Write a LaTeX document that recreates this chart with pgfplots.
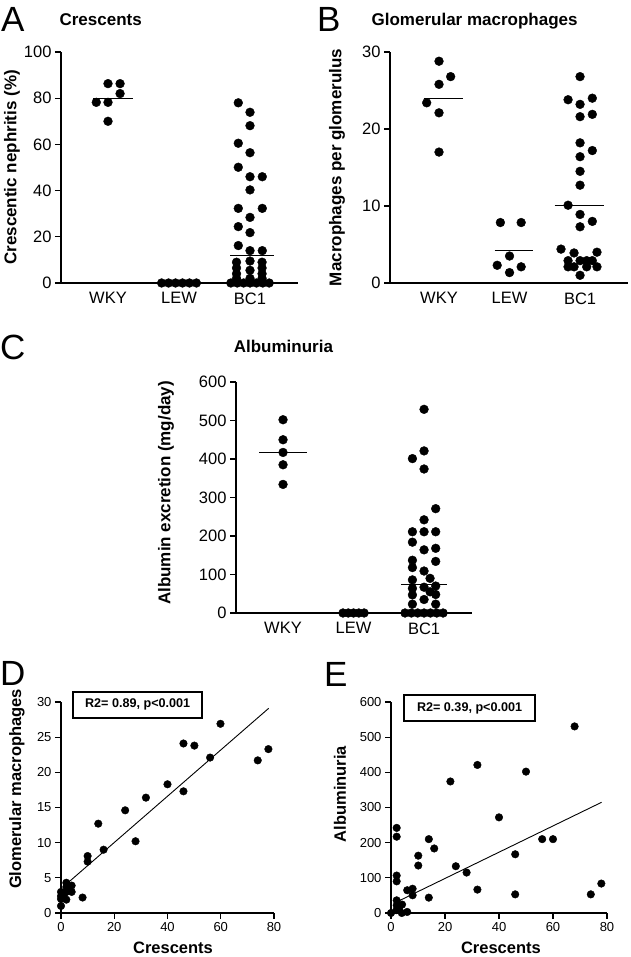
\documentclass[border=0pt]{standalone}
\usepackage{fontspec}
\setmainfont{Liberation Sans}
\usepackage{pgfplots}
\pgfplotsset{compat=1.18}
\pgfplotsset{
  every axis title shift=0pt,
  panel/.style={
    scale only axis, anchor=south west,
    axis lines=left, axis line style={line width=1.1pt,-},
    tick align=outside, major tick length=6pt,
    every tick/.style={line width=1.1pt, black},
    clip=false,
    /pgf/number format/assume math mode=true,
    tick label style={font=\fontsize{16.5}{18}\selectfont},
    label style={font=\fontsize{17}{20}\selectfont\bfseries},
    title style={font=\fontsize{17}{20}\selectfont\bfseries},
  },
  cat/.style={xtick={1,2,3}, xticklabels={WKY,LEW,BC1}, xtick style={draw=none}},
  dots/.style={only marks, mark=*, mark size=4.4pt, black, mark options={fill=black, draw=black}},
  sdots/.style={only marks, mark=*, mark size=3.8pt, black, mark options={fill=black, draw=black}},
  mline/.style={black, line width=1pt, no marks},
  scat/.style={
    scale only axis, anchor=south west,
    axis lines=left, axis line style={line width=1.1pt,-},
    tick align=outside, major tick length=6pt,
    every tick/.style={line width=1.1pt, black},
    clip=false,
    /pgf/number format/assume math mode=true,
    tick label style={font=\fontsize{13}{15}\selectfont},
    label style={font=\fontsize{16.5}{19}\selectfont\bfseries},
    xmin=0, xmax=80, xtick={0,20,...,80},
  },
}
\begin{document}
\begin{tikzpicture}[x=1pt,y=1pt]
\useasboundingbox (0,0) rectangle (630,957);
\node[anchor=base west, inner sep=0, font=\fontsize{35}{35}\selectfont] at (1pt,925pt) {A};
\node[anchor=base west, inner sep=0, font=\fontsize{35}{35}\selectfont] at (317pt,925pt) {B};
\node[anchor=base west, inner sep=0, font=\fontsize{35}{35}\selectfont] at (0pt,597pt) {C};
\node[anchor=base west, inner sep=0, font=\fontsize{35}{35}\selectfont] at (0pt,271pt) {D};
\node[anchor=base west, inner sep=0, font=\fontsize{35}{35}\selectfont] at (324pt,270pt) {E};

% ---------- A ----------
\begin{axis}[panel, cat, at={(61pt,674pt)}, width=237pt, height=231pt,
  xmin=0.338, xmax=3.676, ymin=0, ymax=100, ytick={0,20,...,100},
  ylabel={Crescentic nephritis (\%)},
  ylabel style={at={(axis description cs:-0.207,0.5)}, anchor=center},
  title={Crescents},
  title style={at={(axis description cs:-0.021,1.113)}, anchor=base west}]
\addplot[dots] coordinates {(1,86.3) (1.17,86.3) (1.17,82) (0.835,78.2) (1,78.2) (1,70)};
\addplot[dots] coordinates {(1.755,0) (1.853,0) (1.951,0) (2.049,0) (2.147,0) (2.245,0)};
\addplot[dots] coordinates {
 (2.835,78) (3,73.9) (3,68.1) (2.835,60.5) (3,56.4) (2.835,50.1) (3,46) (3.173,46)
 (3,40.3) (2.835,32.3) (3.173,32.3) (3,28.4) (2.835,24.4) (3,21.8) (2.835,16.2) (3,14) (3.173,14)
 (2.81,9) (3,9.5) (3.17,9) (2.81,6.5) (3,5.5) (3.17,6.5) (2.81,4) (3.17,4) (2.81,2) (3,2) (3.17,2)
 (2.73,0) (2.82,0) (2.91,0) (3,0) (3.09,0) (3.18,0) (3.27,0)};
\addplot[mline] coordinates {(0.79,80) (1.35,80)};
\addplot[mline] coordinates {(2.72,11.7) (3.34,11.7)};
\end{axis}

% ---------- B ----------
\begin{axis}[panel, cat, at={(390pt,674pt)}, width=238pt, height=231pt,
  xmin=0.305, xmax=3.68, ymin=0, ymax=30, ytick={0,10,20,30},
  ylabel={Macrophages per glomerulus},
  ylabel style={at={(axis description cs:-0.223,0.5)}, anchor=center},
  title={Glomerular macrophages},
  title style={at={(axis description cs:-0.092,1.113)}, anchor=base west}]
\addplot[dots] coordinates {(1,28.8) (1.165,26.8) (1,25.8) (0.825,23.4) (1,22.1) (1,17.0)};
\addplot[dots] coordinates {(1.87,7.85) (2.165,7.85) (2,3.5) (1.825,2.3) (2.165,2.1) (2,1.35)};
\addplot[dots] coordinates {
 (3,26.8) (2.83,23.8) (3,23.2) (3.174,24.0) (3,21.6) (3.174,21.9) (3,18.2) (3.174,17.2)
 (3,16.4) (3,14.5) (3,12.7) (2.83,10.1) (3,8.9) (3.174,8.0) (3,7.3)
 (2.73,4.4) (2.915,3.9) (3.24,4.0) (2.83,2.9) (3,2.9) (3.094,2.9) (3.174,2.9)
 (2.83,2.1) (2.915,2.1) (3.094,2.1) (3.24,2.1) (3,1.0)};
\addplot[mline] coordinates {(0.78,24) (1.335,24)};
\addplot[mline] coordinates {(1.79,4.16) (2.33,4.16)};
\addplot[mline] coordinates {(2.64,10.05) (3.34,10.05)};
\end{axis}

% ---------- C ----------
\begin{axis}[panel, cat, at={(236pt,344pt)}, width=236pt, height=231pt,
  xmin=0.333, xmax=3.68, ymin=0, ymax=600, ytick={0,100,...,600},
  ylabel={Albumin excretion (mg/day)},
  ylabel style={at={(axis description cs:-0.297,0.52)}, anchor=center},
  title={Albuminuria},
  title style={at={(axis description cs:0.201,1.127)}, anchor=base}]
\addplot[dots] coordinates {(1,502) (1,450) (1,417) (1,385) (1,334)};
\addplot[dots] coordinates {(1.85,0) (1.925,0) (2,0) (2.075,0) (2.15,0)};
\addplot[dots] coordinates {
 (3,529) (3,421) (2.835,401) (3,374) (3.165,271) (3,242) (2.835,211) (3,211) (3.165,211)
 (2.835,184) (3,164) (3.165,168) (3.165,134) (2.835,137) (2.835,118) (3,109) (2.835,86) (3.085,90)
 (2.835,64) (3,67) (3.165,70) (2.835,47) (3.085,55) (3.165,48) (3,35) (2.835,23) (3.165,23)
 (2.73,0) (2.82,0) (2.91,0) (3,0) (3.09,0) (3.18,0) (3.27,0)};
\addplot[mline] coordinates {(0.66,418) (1.34,418)};
\addplot[mline] coordinates {(2.67,74.5) (3.33,74.5)};
\end{axis}

% ---------- D ----------
\begin{axis}[scat, at={(61pt,44pt)}, width=213pt, height=211pt,
  ymin=0, ymax=30, ytick={0,5,...,30},
  xlabel={Crescents}, ylabel={Glomerular macrophages},
  xlabel style={at={(axis description cs:0.526,-0.166)}, anchor=center},
  ylabel style={at={(axis description cs:-0.207,0.588)}, anchor=center}]
\addplot[sdots] coordinates {
 (59.9,26.9) (46,24.1) (50.1,23.8) (77.9,23.3) (73.9,21.7) (56,22.1) (40,18.3) (46,17.3)
 (31.9,16.4) (24.1,14.6) (14,12.7) (28,10.2) (16,9.0) (10,8.1) (10,7.3) (8.1,2.2)
 (2,4.3) (2,3.7) (4,3.9) (4,3.0) (0,3.0) (1,2.5) (0,2.0) (2,1.9) (0,1.0) (2,3.0) (0,2.4) (3,3.5)};
\addplot[black, line width=0.9pt, no marks] coordinates {(2,4.1) (78,29.1)};
\node[draw=black, line width=2pt, fill=white, minimum width=129pt, minimum height=26pt, inner sep=0,
  font=\fontsize{12.6}{14}\selectfont\bfseries] at (axis cs:28.8,29.6) {R2= 0.89, p<0.001};
\end{axis}

% ---------- E ----------
\begin{axis}[scat, at={(391pt,44pt)}, width=216pt, height=211pt,
  ymin=0, ymax=600, ytick={0,100,...,600},
  xlabel={Crescents}, ylabel={Albuminuria},
  xlabel style={at={(axis description cs:0.509,-0.166)}, anchor=center},
  ylabel style={at={(axis description cs:-0.236,0.564)}, anchor=center}]
\addplot[sdots] coordinates {
 (68,530.6) (32,421) (50,402) (22,374) (40,272) (2.1,242) (2.1,217) (14,210) (56,210) (60,210)
 (16,183.5) (46,167) (10.1,163) (10.1,135) (24,133) (28,115) (2.1,106.5) (2.1,90) (77.9,83.7)
 (8,69) (32,66.5) (6,64.7) (8,50.4) (14,43.7) (46,53) (74,53) (2.1,36) (2.1,22) (4.1,24)
 (0,0) (2,8) (6,3) (4,0) (3,12)};
\addplot[black, line width=0.9pt, no marks] coordinates {(2.1,31.4) (78,314.8)};
\node[draw=black, line width=2pt, fill=white, minimum width=131pt, minimum height=26pt, inner sep=0,
  font=\fontsize{12.6}{14}\selectfont\bfseries] at (axis cs:29.1,583) {R2= 0.39, p<0.001};
\end{axis}
\end{tikzpicture}
\end{document}
